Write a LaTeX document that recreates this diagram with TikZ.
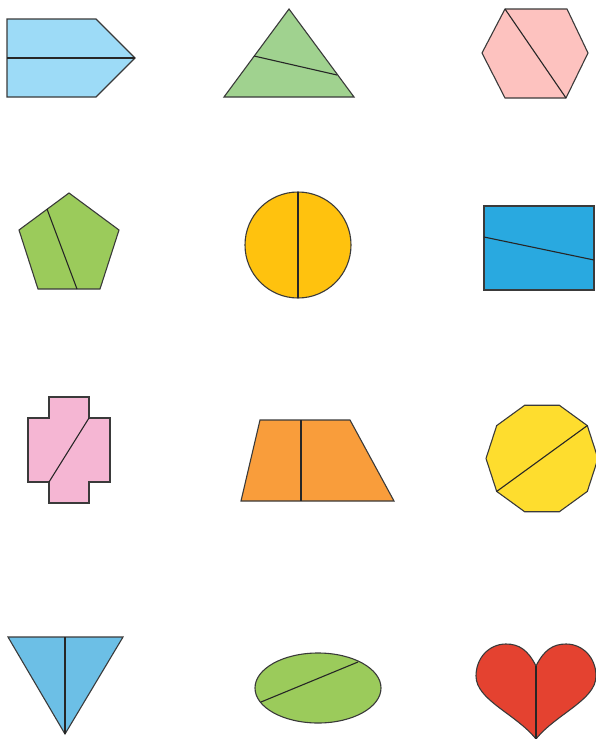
\documentclass[tikz,border=0pt]{standalone}
\usepackage{tikz}
\definecolor{Outline}{HTML}{3A3A3A}
\definecolor{SkyBlue}{HTML}{9DDBF7}
\definecolor{LeafGreen}{HTML}{A0D28F}
\definecolor{Blush}{HTML}{FDC2BF}
\definecolor{Lime}{HTML}{9BCB5B}
\definecolor{Amber}{HTML}{FFC20E}
\definecolor{Cyan}{HTML}{29A9E0}
\definecolor{Rose}{HTML}{F5B6D3}
\definecolor{Tangerine}{HTML}{F99D3B}
\definecolor{Lemon}{HTML}{FEDD2E}
\definecolor{Azure}{HTML}{6CBFE6}
\definecolor{Scarlet}{HTML}{E44230}
\tikzset{
  piece/.style={draw=Outline, line width=1.1pt, line join=miter},
  cutline/.style={draw=black!85, line width=1.4pt},
  thincut/.style={draw=black!85, line width=1.1pt}
}
\begin{document}
\begin{tikzpicture}[x=1pt, y=-1pt]
  \useasboundingbox (0,0) rectangle (595,739);
  % row 1
  \draw[piece, fill=SkyBlue] (7,19) -- (96,19) -- (135,58) -- (96,97) -- (7,97) -- cycle;
  \coordinate (arrowL) at (7,58);
  \coordinate (arrowR) at (135,58);
  \draw[cutline] (arrowL) -- (arrowR);

  \draw[piece, fill=LeafGreen] (289,9) -- (354,97) -- (224,97) -- cycle;
  \coordinate (triA) at (254,56);
  \coordinate (triB) at (337,75);
  \draw[thincut] (triA) -- (triB);

  \draw[piece, fill=Blush] (505,9) -- (567,9) -- (588,53) -- (566,98) -- (505,98) -- (482,53) -- cycle;
  \coordinate (hexA) at (505,9);
  \coordinate (hexB) at (566,98);
  \draw[thincut] (hexA) -- (hexB);

  % row 2
  \draw[piece, fill=Lime] (69,193) -- (119,230) -- (100,289) -- (38,289) -- (19,230) -- cycle;
  \coordinate (pentA) at (47,209);
  \coordinate (pentB) at (77,289);
  \draw[thincut] (pentA) -- (pentB);

  \draw[piece, fill=Amber] (298,245) circle (53);
  \coordinate (circA) at (298,192);
  \coordinate (circB) at (298,298);
  \draw[cutline, line width=1.8pt] (circA) -- (circB);

  \draw[piece, fill=Cyan] (484,206) rectangle (594,290);
  \coordinate (rectA) at (484,237);
  \coordinate (rectB) at (594,260);
  \draw[thincut] (rectA) -- (rectB);

  % row 3
  \draw[piece, fill=Rose] (49,397) -- (89,397) -- (89,418) -- (110,418) -- (110,482) -- (89,482)
    -- (89,503) -- (49,503) -- (49,482) -- (28,482) -- (28,418) -- (49,418) -- cycle;
  \coordinate (crossA) at (89,418);
  \coordinate (crossB) at (49,482);
  \draw[thincut] (crossA) -- (crossB);

  \draw[piece, fill=Tangerine] (260,420) -- (350,420) -- (394,501) -- (241,501) -- cycle;
  \coordinate (trapA) at (301,420);
  \coordinate (trapB) at (301,501);
  \draw[cutline] (trapA) -- (trapB);

  \draw[piece, fill=Lemon] (542+56,458.5)
    \foreach \k in {1,...,9} { -- ({542+56*cos(36*\k)},{458.5-56*sin(36*\k)}) } -- cycle;
  \coordinate (decA) at ({542+56*cos(36)},{458.5-56*sin(36)});
  \coordinate (decB) at ({542+56*cos(216)},{458.5-56*sin(216)});
  \draw[thincut] (decA) -- (decB);

  % row 4
  \draw[piece, fill=Azure] (8,637) -- (123,637) -- (65,734) -- cycle;
  \coordinate (vtriA) at (65,637);
  \coordinate (vtriB) at (65,734);
  \draw[cutline] (vtriA) -- (vtriB);

  \draw[piece, fill=Lime] (318,688) ellipse (63 and 35);
  \coordinate (ellA) at (261,702);
  \coordinate (ellB) at (358,662);
  \draw[thincut] (ellA) -- (ellB);

  \draw[piece, fill=Scarlet] (536,666)
    .. controls (528,650) and (519,644) .. (506,644)
    .. controls (489,644) and (476,658) .. (476,676)
    .. controls (476,700) and (516,714) .. (536,739)
    .. controls (556,714) and (596,700) .. (596,676)
    .. controls (596,658) and (583,644) .. (566,644)
    .. controls (553,644) and (544,650) .. (536,666) -- cycle;
  \coordinate (heartA) at (536,666);
  \coordinate (heartB) at (536,739);
  \draw[cutline] (heartA) -- (heartB);
\end{tikzpicture}
\end{document}
